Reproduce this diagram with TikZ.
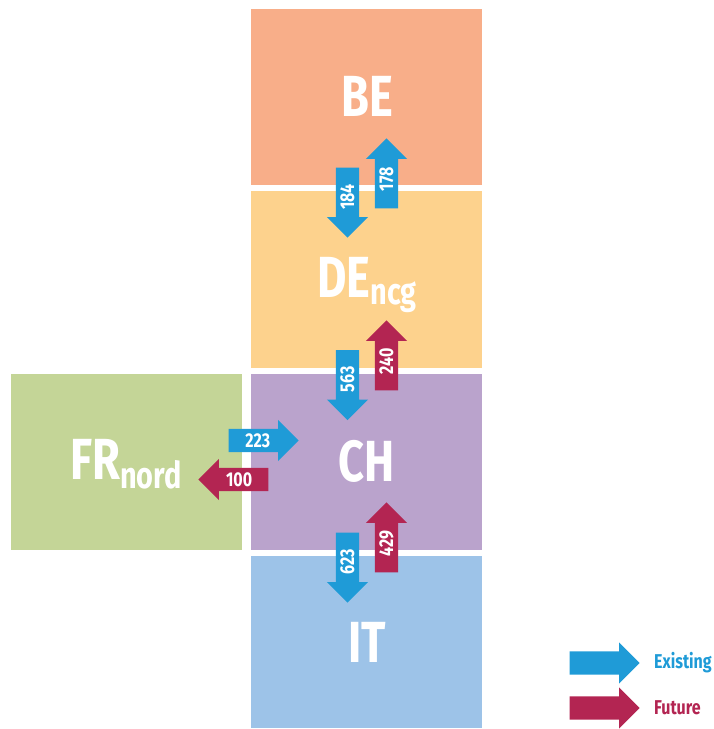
\documentclass[tikz,border=0pt]{standalone}
\usepackage{fontspec}
\usetikzlibrary{shapes.arrows}
\newfontfamily\condfont[FakeStretch=0.78]{Fira Sans}
\newfontfamily\numfont[FakeStretch=0.8]{Fira Sans}
\definecolor{beC}{HTML}{F8AE89}
\definecolor{deC}{HTML}{FDD28D}
\definecolor{chC}{HTML}{BAA3CC}
\definecolor{itC}{HTML}{9DC3E8}
\definecolor{frC}{HTML}{C4D597}
\definecolor{exC}{HTML}{1F9BD7}
\definecolor{fuC}{HTML}{B32552}
\begin{document}
\begin{tikzpicture}[x=1pt,y=-1pt,
  bigtext/.style={text=white,anchor=base,inner sep=0pt,font=\condfont\bfseries\fontsize{58}{58}\selectfont},
  flow/.style={shape=single arrow,fill=#1,draw=none,inner xsep=0pt,inner ysep=0pt,
    text height=18pt,text depth=5pt,anchor=tip,
    minimum height=70pt,minimum width=41pt,single arrow head extend=9pt,
    single arrow head indent=0pt,text=white,
    font=\numfont\bfseries\fontsize{20}{20}\selectfont},
  legtext/.style={anchor=west,inner sep=0pt,font=\numfont\bfseries\fontsize{20}{20}\selectfont}]
\useasboundingbox (0,0) rectangle (714,729);
% zones
\fill[beC] (251,9) rectangle (482,185);
\fill[deC] (251,191) rectangle (482,368);
\fill[chC] (251,374) rectangle (482,550);
\fill[itC] (251,556) rectangle (482,728);
\fill[frC] (11,374) rectangle (242,550);
% labels
\node[bigtext] (be) at (367,116) {BE};
\node[bigtext] (de) at (367,297) {DE\raisebox{-7pt}{\fontsize{37}{37}\selectfont ncg}};
\node[bigtext] (ch) at (367,481) {CH};
\node[bigtext] (it) at (367,662) {IT};
\node[bigtext] (fr) at (126,479) {FR\raisebox{-9pt}{\fontsize{37}{37}\selectfont nord}};
% flows
\node[flow=exC,rotate=90,shape border rotate=180] (f184) at (347.5,238) {184};
\node[flow=exC,rotate=90] (f178) at (386.5,138) {178};
\node[flow=exC,rotate=90,shape border rotate=180] (f563) at (347.5,420.5) {563};
\node[flow=fuC,rotate=90] (f240) at (386.5,320) {240};
\node[flow=exC,rotate=90,shape border rotate=180] (f623) at (347.5,603) {623};
\node[flow=fuC,rotate=90] (f429) at (386.5,502) {429};
\node[flow=exC] (f223) at (299,440.5) {223};
\node[flow=fuC,shape border rotate=180] (f100) at (198,479.5) {100};
% legend
\node[flow=exC] (lex) at (640,663) {};
\node[flow=fuC] (lfu) at (640,708) {};
\node[legtext,text=exC] (tex) at (654,663) {Existing};
\node[legtext,text=fuC] (tfu) at (654,708) {Future};
\end{tikzpicture}
\end{document}
